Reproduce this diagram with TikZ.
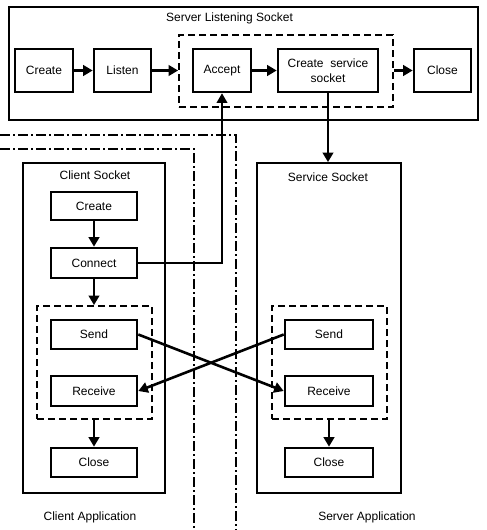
\documentclass[tikz,border=0pt]{standalone}
\usepackage{fontspec}
\setmainfont{Liberation Sans}
\usetikzlibrary{arrows.meta}
\begin{document}
\begin{tikzpicture}[x=1pt,y=-1pt,
  font=\fontsize{12}{13}\selectfont,
  box/.style={draw,line width=2.6pt,rectangle,inner sep=0pt,align=center},
  cont/.style={draw,line width=1.8pt,rectangle,inner sep=0pt},
  dbox/.style={draw,line width=1.8pt,rectangle,inner sep=0pt,dash pattern=on 7pt off 4pt},
  ddot/.style={line width=1.6pt,dash pattern=on 10pt off 3pt on 2pt off 3pt},
  lbl/.style={inner sep=0pt},
  arr/.style={line width=2.6pt,-{Triangle[length=9.5pt,width=10.5pt]}},
  tarr/.style={line width=1.8pt,-{Triangle[length=9.5pt,width=10.5pt]}}
]
\fill[white] (0,0) rectangle (487,530);
\useasboundingbox (0,0) rectangle (487,530);

% server listening socket
\node[cont,minimum width=469pt,minimum height=113pt] (srv) at (243.5,63.5) {};
\node[lbl] (srvt) at (229.5,18) {Server Listening Socket};
\node[dbox,minimum width=214pt,minimum height=72pt] (accg) at (286,71) {};
\node[box,minimum width=58pt,minimum height=43pt] (lcreate) at (44,70.5) {Create};
\node[box,minimum width=57pt,minimum height=43pt] (listen) at (122.5,70.5) {Listen};
\node[box,minimum width=58pt,minimum height=43pt] (accept) at (222,70.5) {Accept};
\node[box,minimum width=100pt,minimum height=43pt] (css) at (328,70.5) {Create\ \ service\\[2pt]socket};
\node[box,minimum width=57pt,minimum height=43pt] (lclose) at (442.5,70.5) {Close};
\draw[arr] (lcreate) -- (listen);
\draw[arr] (listen) -- (accg.west |- listen);
\draw[arr] (accept) -- (css);
\draw[arr] (accg.east |- lclose) -- (lclose);

% application boundaries
\draw[ddot] (0,135) -- (236,135) -- (236,530);
\draw[ddot] (0,149) -- (194,149) -- (194,530);

% client socket
\node[cont,minimum width=142pt,minimum height=330pt] (cli) at (94,328) {};
\node[lbl] (clit) at (95,175) {Client Socket};
\node[dbox,minimum width=115pt,minimum height=113pt] (cg) at (94.5,362.5) {};
\node[box,minimum width=86pt,minimum height=28pt] (ccreate) at (94,206) {Create};
\node[box,minimum width=86pt,minimum height=30pt] (cconn) at (94,263) {Connect};
\node[box,minimum width=86pt,minimum height=29pt] (csend) at (94,334.5) {Send};
\node[box,minimum width=86pt,minimum height=30pt] (crecv) at (94,391) {Receive};
\node[box,minimum width=86pt,minimum height=29pt] (cclose) at (94,462.5) {Close};
\node[lbl] (capp) at (90,517) {Client Application};
\draw[arr] (ccreate) -- (cconn);
\draw[arr] (cconn) -- (cconn |- cg.north);
\draw[arr] (cclose |- cg.south) -- (cclose);

% service socket
\node[cont,minimum width=144pt,minimum height=330pt] (svc) at (329,328) {};
\node[lbl] (svct) at (328,177) {Service Socket};
\node[dbox,minimum width=115pt,minimum height=113pt] (sg) at (329.5,362.5) {};
\node[box,minimum width=88pt,minimum height=29pt] (ssend) at (329,334.5) {Send};
\node[box,minimum width=88pt,minimum height=30pt] (srecv) at (329,391) {Receive};
\node[box,minimum width=88pt,minimum height=29pt] (sclose) at (329,462.5) {Close};
\node[lbl] (sapp) at (367,517) {Server Application};
\draw[arr] (sclose |- sg.south) -- (sclose);

% connections
\draw[tarr] (cconn.east) -| (accept.south);
\draw[arr] (css.south) -- (css.south |- svc.north);
\draw[arr] (csend.east) -- (srecv.west);
\draw[arr] (ssend.west) -- (crecv.east);
\end{tikzpicture}
\end{document}
